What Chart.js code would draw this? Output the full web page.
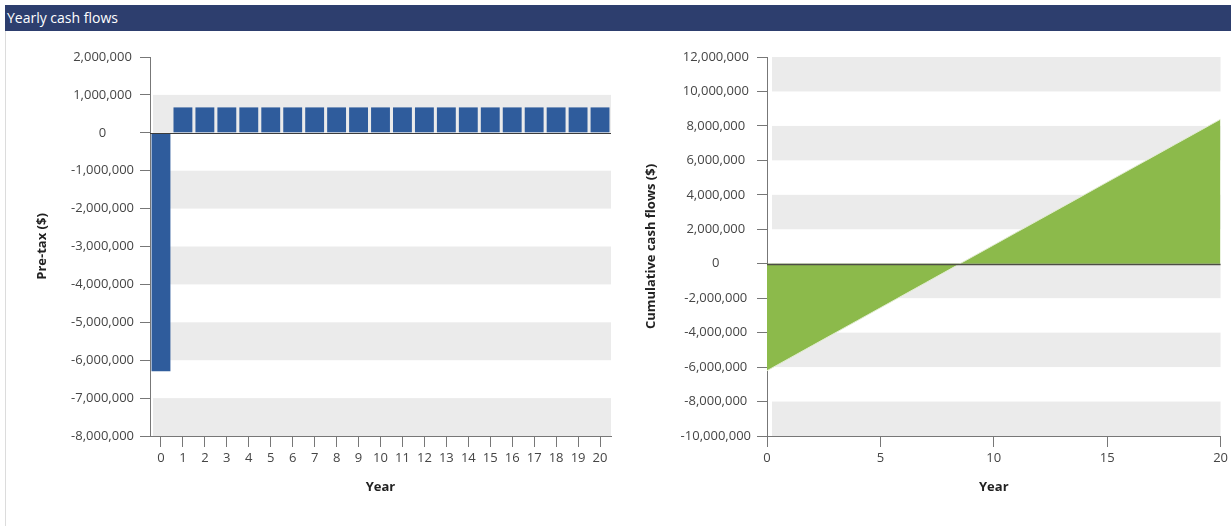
<!DOCTYPE html>
<html><head><meta charset="utf-8">
<script src="https://cdn.jsdelivr.net/npm/chart.js@4/dist/chart.umd.min.js"></script>
<style>
html,body{margin:0;padding:0;background:#fff;width:1231px;height:526px;overflow:hidden;font-family:"Open Sans",sans-serif;}
#bar{position:absolute;left:5px;top:5px;width:1226px;height:26px;background:#2d3e6e;color:#fff;font-size:14px;line-height:25px;padding-left:2px;box-sizing:border-box;z-index:2;}
#edge{position:absolute;left:5px;top:31px;width:1px;height:495px;background:#dcdcdc;}
#c1{position:absolute;left:0;top:0;}
#c2{position:absolute;left:620px;top:0;}
</style></head>
<body>
<div id="bar">Yearly cash flows</div>
<div id="edge"></div>
<canvas id="c1" width="620" height="526"></canvas>
<canvas id="c2" width="611" height="526"></canvas>
<script>
// ---- data ----
const years = ['0','1','2','3','4','5','6','7','8','9','10','11','12','13','14','15','16','17','18','19','20'];
const pretaxValues = [-6290000, 670000, 670000, 670000, 670000, 670000, 670000, 670000, 670000, 670000, 670000,
  670000, 670000, 670000, 670000, 670000, 670000, 670000, 670000, 670000, 670000];
const cumulativeYears = [0,1,2,3,4,5,6,7,8,9,10,11,12,13,14,15,16,17,18,19,20];
const cumulativeValues = [-6210000, -5480000, -4750000, -4020000, -3290000, -2560000, -1830000, -1100000, -370000,
  360000, 1090000, 1820000, 2550000, 3280000, 4010000, 4740000, 5470000, 6200000, 6930000, 7660000, 8390000];
const pretaxAxis = [-8000000, 2000000, 1000000];      // min, max, step
const cumulativeAxis = [-10000000, 12000000, 2000000]; // min, max, step
const yearAxis = [0, 20, 5];
const pretaxTitle = 'Pre-tax ($)';
const cumulativeTitle = 'Cumulative cash flows ($)';
const xTitle = 'Year';

// ---- styles ----
const FONT = 'Open Sans';
const TICK_COLOR = '#454545';
const LINE_COLOR = '#777777';
const fmt = v => Number(v).toLocaleString('en-US');

const bandsPlugin = {
  id: 'bands',
  beforeDatasetsDraw(chart, args, o) {
    const y = chart.scales.y, a = chart.chartArea, ctx = chart.ctx;
    const t = y.ticks;
    ctx.save();
    ctx.fillStyle = o.color;
    for (let i = 0; i < t.length - 1; i++) {
      if (i % 2 === 0) {
        const y0 = y.getPixelForValue(t[i].value), y1 = y.getPixelForValue(t[i + 1].value);
        ctx.fillRect(a.left + o.inset, y1, a.right - a.left - o.inset, y0 - y1);
      }
    }
    ctx.restore();
  },
  afterDatasetsDraw(chart, args, o) {
    const y = chart.scales.y, a = chart.chartArea, ctx = chart.ctx;
    const py = Math.round(y.getPixelForValue(0)) + 0.5;
    ctx.save();
    ctx.strokeStyle = o.zeroColor;
    ctx.lineWidth = o.zeroWidth;
    ctx.beginPath();
    ctx.moveTo(a.left, py);
    ctx.lineTo(a.right, py);
    ctx.stroke();
    ctx.restore();
  }
};

function xScale(extra) {
  return Object.assign({
    grid: { offset: false, drawOnChartArea: false, drawTicks: true, tickLength: 11, tickColor: LINE_COLOR },
    border: { display: true, color: LINE_COLOR, width: 1 },
    ticks: { color: TICK_COLOR, font: { family: FONT, size: 13 }, padding: 3, maxRotation: 0, autoSkip: false },
    title: { display: true, text: xTitle, color: '#222', font: { family: FONT, size: 13, weight: 'bold' }, padding: { top: 0, bottom: 31 } },
    afterFit(s) { s.height = 90; }
  }, extra);
}
function yScale(axis, title, titlePad, width) {
  return {
    min: axis[0], max: axis[1],
    ticks: { stepSize: axis[2], crossAlign: 'center', padding: 6, color: TICK_COLOR, font: { family: FONT, size: 13 }, callback: v => fmt(v) },
    grid: { drawOnChartArea: false, drawTicks: true, tickLength: 10, tickColor: LINE_COLOR },
    border: { display: true, color: LINE_COLOR, width: 1 },
    title: { display: true, text: title, color: '#222', font: { family: FONT, size: 13, weight: 'bold' }, padding: { top: titlePad, bottom: 0 } },
    afterFit(s) { s.width = width; }
  };
}

new Chart(document.getElementById('c1'), {
  type: 'bar',
  data: {
    labels: years,
    datasets: [{ data: pretaxValues, backgroundColor: '#2f5c9c', borderWidth: 0, barPercentage: 0.86, categoryPercentage: 1 }]
  },
  options: {
    responsive: false, animation: false,
    layout: { padding: { top: 57, right: 9, bottom: 0, left: 0 } },
    plugins: { legend: { display: false }, tooltip: { enabled: false },
      bands: { color: '#ebebeb', inset: 3, zeroColor: '#3c3c3c', zeroWidth: 1 } },
    scales: {
      x: xScale({ type: 'category', offset: true }),
      y: yScale(pretaxAxis, pretaxTitle, 34, 150)
    }
  },
  plugins: [bandsPlugin]
});

new Chart(document.getElementById('c2'), {
  type: 'line',
  data: {
    datasets: [{
      data: cumulativeYears.map((x, i) => ({ x: x, y: cumulativeValues[i] })),
      fill: 'origin', backgroundColor: '#8cba4b', borderColor: '#e2edd2', borderWidth: 1,
      pointRadius: 0, tension: 0
    }]
  },
  options: {
    responsive: false, animation: false,
    layout: { padding: { top: 57, right: 9, bottom: 0, left: 0 } },
    plugins: { legend: { display: false }, tooltip: { enabled: false },
      bands: { color: '#ebebeb', inset: 5, zeroColor: '#4d4d45', zeroWidth: 1.5 } },
    scales: {
      x: xScale({ type: 'linear', min: yearAxis[0], max: yearAxis[1], ticks: { stepSize: yearAxis[2], color: TICK_COLOR, font: { family: FONT, size: 13 }, padding: 3, maxRotation: 0 } }),
      y: yScale(cumulativeAxis, cumulativeTitle, 23, 147)
    }
  },
  plugins: [bandsPlugin]
});
</script>
</body></html>
